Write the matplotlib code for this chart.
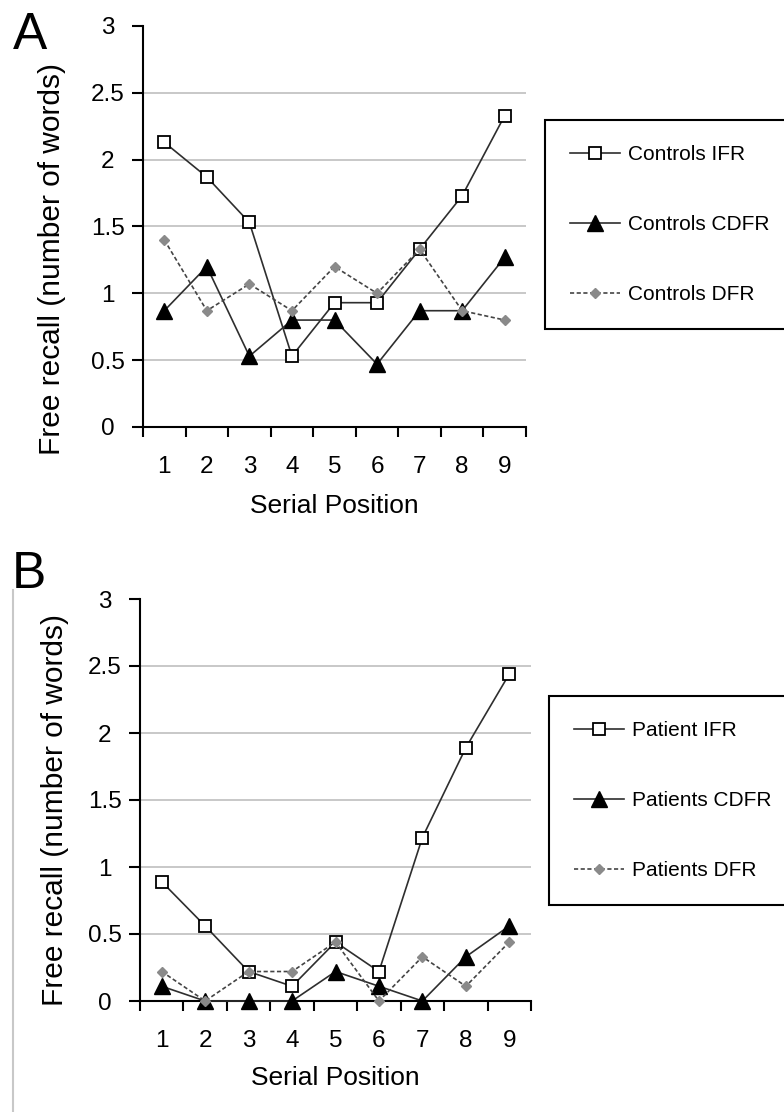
import matplotlib
matplotlib.use("Agg")
import matplotlib.pyplot as plt
from matplotlib.lines import Line2D

plt.rcParams["font.family"] = ["Liberation Sans", "DejaVu Sans"]

### data

positions = [1, 2, 3, 4, 5, 6, 7, 8, 9]

controls_ifr = [2.13, 1.87, 1.53, 0.53, 0.93, 0.93, 1.33, 1.73, 2.33]
controls_cdfr = [0.87, 1.20, 0.53, 0.80, 0.80, 0.47, 0.87, 0.87, 1.27]
controls_dfr = [1.40, 0.87, 1.07, 0.87, 1.20, 1.00, 1.33, 0.87, 0.80]

patients_ifr = [0.89, 0.56, 0.22, 0.11, 0.44, 0.22, 1.22, 1.89, 2.44]
patients_cdfr = [0.11, 0.00, 0.00, 0.00, 0.22, 0.11, 0.00, 0.33, 0.56]
patients_dfr = [0.22, 0.00, 0.22, 0.22, 0.44, 0.00, 0.33, 0.11, 0.44]

labels_a = ["Controls IFR", "Controls CDFR", "Controls DFR"]
labels_b = ["Patient IFR", "Patients CDFR", "Patients DFR"]

yticks = [0, 0.5, 1, 1.5, 2, 2.5, 3]
ytick_labels = ["0", "0.5", "1", "1.5", "2", "2.5", "3"]

W, H = 784, 1112
fig = plt.figure(figsize=(W / 100, H / 100), dpi=100)

line_col = "#2e2e2e"
dfr_col = "#8a8a8a"


def panel(rect, ifr, cdfr, dfr, labels, leg_box, ylab_y, xlab_y, ylab_x):
    ax = fig.add_axes(rect)

    # grid
    ax.set_yticks(yticks)
    ax.set_yticklabels(ytick_labels)
    ax.yaxis.grid(True, color="#c4c4c4", linewidth=1.3)
    ax.get_ygridlines()[-1].set_visible(False)
    ax.set_axisbelow(True)

    # lines
    ax.plot(positions, ifr, color=line_col, linewidth=1.2, marker="s",
            markersize=8, markerfacecolor="white", markeredgecolor="black",
            markeredgewidth=1.3, clip_on=False, zorder=3)
    ax.plot(positions, cdfr, color=line_col, linewidth=1.2, marker="^",
            markersize=11, markerfacecolor="black", markeredgecolor="black",
            clip_on=False, zorder=3)
    ax.plot(positions, dfr, color="#444444", linewidth=1.2, dashes=(2.5, 1.5),
            marker="D", markersize=5.5, markerfacecolor=dfr_col,
            markeredgecolor=dfr_col, clip_on=False, zorder=4)

    ax.set_xlim(0.5, 9.5)
    ax.set_ylim(0, 3)
    ax.set_xticks(positions)
    ax.set_xticks([p - 0.5 for p in positions] + [9.5], minor=True)

    for s in ["top", "right"]:
        ax.spines[s].set_visible(False)
    for s in ["left", "bottom"]:
        ax.spines[s].set_linewidth(1.5)

    ax.tick_params(axis="x", which="major", length=0, pad=21, labelsize=17.5)
    ax.tick_params(axis="x", which="minor", length=7, width=1.5, direction="out")
    ax.tick_params(axis="y", length=8, width=1.5, direction="out", pad=17.5,
                   labelsize=17.5)
    for t in ax.get_yticklabels():
        t.set_horizontalalignment("center")

    ax.set_ylabel("Free recall (number of words)", fontsize=21.5)
    ax.yaxis.set_label_coords(ylab_x, ylab_y)
    ax.set_xlabel("Serial Position", fontsize=19)
    ax.xaxis.set_label_coords(0.5, xlab_y)

    # legend
    handles = [
        Line2D([], [], color=line_col, linewidth=1.2, marker="s", markersize=8,
               markerfacecolor="white", markeredgecolor="black",
               markeredgewidth=1.3),
        Line2D([], [], color=line_col, linewidth=1.2, marker="^",
               markersize=11, markerfacecolor="black", markeredgecolor="black"),
        Line2D([], [], color="#444444", linewidth=1.2, dashes=(2.5, 1.5),
               marker="D", markersize=5.5, markerfacecolor=dfr_col,
               markeredgecolor=dfr_col),
    ]
    x0, y_top, y_bot = leg_box
    leg = ax.legend(handles, labels, loc="upper left",
                    bbox_to_anchor=(x0 / W, 1 - y_bot / H, (860 - x0) / W,
                                    (y_bot - y_top) / H),
                    bbox_transform=fig.transFigure, mode="expand",
                    borderaxespad=0, fontsize=15, labelspacing=2.45,
                    borderpad=1.2, handlelength=2.4, handletextpad=0.4,
                    fancybox=False, framealpha=1, edgecolor="black")
    leg.get_frame().set_linewidth(1.5)
    return ax


# panel A
panel([143 / W, 1 - 427 / H, 383 / W, 401 / H],
      controls_ifr, controls_cdfr, controls_dfr, labels_a,
      (545, 120, 331), 0.419, -0.167, -0.201)

# panel B
panel([140 / W, 1 - 1001 / H, 391 / W, 402 / H],
      patients_ifr, patients_cdfr, patients_dfr, labels_b,
      (549, 696, 905), 0.475, -0.162, -0.181)

# panel letters
fig.text(13 / W, 1 - 49 / H, "A", fontsize=37, ha="left", va="baseline")
fig.text(12 / W, 1 - 588 / H, "B", fontsize=37, ha="left", va="baseline")

# thin grey line at the left of panel B
fig.add_artist(Line2D([13.5 / W, 13.5 / W], [0, 1 - 590 / H],
                      transform=fig.transFigure, color="#c8c8c8",
                      linewidth=1.5))

fig.savefig("out.png", dpi=100)
